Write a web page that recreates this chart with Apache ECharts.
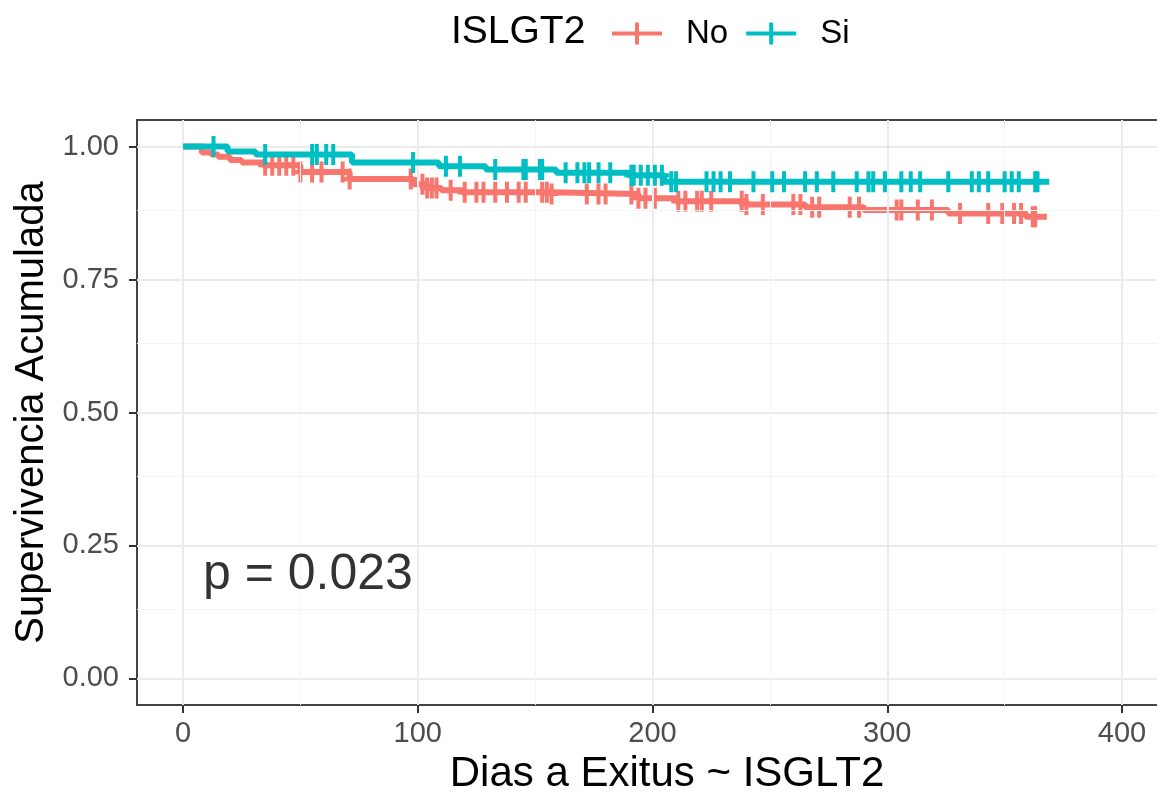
<!DOCTYPE html>
<html>
<head>
<meta charset="utf-8">
<script src="https://cdn.jsdelivr.net/npm/echarts@6/dist/echarts.min.js"></script>
<style>
html,body{margin:0;padding:0;background:#fff;}
#chart{width:1157px;height:800px;}
</style>
</head>
<body>
<div id="chart"></div>
<script>
// ---- data ----
const legendTitle = 'ISLGT2';
const groupNames = ['No', 'Si'];
const groupColors = ['#F8766D', '#00BFC4'];

// Kaplan-Meier steps: time (days) and survival from that time onward
const noTimes = [0, 8, 12, 15, 20, 25, 34, 50, 71, 98, 104, 110, 119, 157, 194, 210, 240, 265, 290, 326, 359, 368];
const noSurv  = [1.0, 0.989, 0.985, 0.981, 0.975, 0.970, 0.965, 0.952, 0.939, 0.929, 0.922, 0.918, 0.914, 0.911, 0.903, 0.897, 0.891, 0.886, 0.881, 0.874, 0.868, 0.868];
const noCensor = [35, 38, 41, 44, 47, 50, 55, 59, 68, 71, 97, 102, 104, 106, 108, 114, 120, 125, 128, 133, 138, 143, 146, 153, 155, 157, 172, 177, 180, 191, 194, 197, 201, 211, 214, 219, 221, 225, 238, 240, 247, 260, 263, 268, 271, 284, 288, 304, 306, 313, 319, 331, 343, 349, 354, 357, 362, 363];

const siTimes = [0, 19, 31, 72, 109, 129, 159, 190, 205, 369];
const siSurv  = [1.0, 0.991, 0.985, 0.970, 0.963, 0.957, 0.951, 0.946, 0.934, 0.934];
const siCensor = [13, 35, 55, 57, 61, 64, 98, 112, 118, 133, 145, 146, 152, 153, 163, 168, 171, 173, 177, 182, 191, 192, 195, 198, 201, 204, 208, 210, 223, 226, 229, 233, 243, 251, 256, 265, 270, 277, 287, 292, 294, 299, 306, 310, 314, 326, 336, 339, 343, 350, 353, 356, 363, 364];

const xTicks = [0, 100, 200, 300, 400];
const xMinor = [50, 150, 250, 350];
const yTicks = [0, 0.25, 0.5, 0.75, 1.0];
const yMinor = [0.125, 0.375, 0.625, 0.875];

const pText = 'p = 0.023';
const pPos = [8.5, 0.194];

// ---- helpers ----
function stepValue(times, surv, t) {
  let v = surv[0];
  for (let i = 0; i < times.length; i++) { if (times[i] <= t) v = surv[i]; }
  return v;
}
const zip = (a, b) => a.map((v, i) => [v, b[i]]);
const plusPath = 'path://M-2,-10H2V10H-2ZM-7,-2H7V2H-7Z';
const legendIcon = 'path://M0,9H50V13H0ZM23,0H27V22H23Z';
const FONT = 'Liberation Sans, Arial, Helvetica, sans-serif';

const X_MIN = -19.6, X_MAX = 414.9, Y_MIN = -0.05, Y_MAX = 1.05;

const gridLines = [];
yTicks.forEach(v => gridLines.push({yAxis: v, lineStyle: {color: '#ebebeb', width: 2, type: 'solid'}}));
yMinor.forEach(v => gridLines.push({yAxis: v, lineStyle: {color: '#f4f4f4', width: 1, type: 'solid'}}));
xTicks.forEach(v => gridLines.push({xAxis: v, lineStyle: {color: '#ebebeb', width: 2, type: 'solid'}}));
xMinor.forEach(v => gridLines.push({xAxis: v, lineStyle: {color: '#f4f4f4', width: 1, type: 'solid'}}));

const chart = echarts.init(document.getElementById('chart'), null, {renderer: 'canvas'});
const option = {
  animation: false,
  backgroundColor: '#ffffff',
  textStyle: {fontFamily: FONT},
  title: {
    text: legendTitle, left: 446, top: 8,
    textStyle: {fontSize: 39, fontWeight: 'normal', color: '#000', fontFamily: FONT}
  },
  legend: {
    left: 607, top: 12,
    itemWidth: 52, itemHeight: 22, itemGap: 18,
    textStyle: {fontSize: 33, color: '#000', fontFamily: FONT, padding: [0, 0, 0, 18]},
    data: groupNames.map(n => ({name: n, icon: legendIcon})),
    selectedMode: false
  },
  grid: {
    left: 137, top: 120, right: 0, height: 591,
    show: false
  },
  xAxis: [{
    type: 'value', min: X_MIN, max: X_MAX,
    name: 'Dias a Exitus ~ ISGLT2', nameLocation: 'middle', nameGap: 48,
    nameTextStyle: {fontSize: 42, color: '#000', fontFamily: FONT, padding: [0, 0, 0, 40]},
    axisLine: {show: true, onZero: false, lineStyle: {color: '#444', width: 2}},
    axisTick: {show: true, length: 8, lineStyle: {color: '#333', width: 2}, customValues: xTicks},
    axisLabel: {show: true, customValues: xTicks, margin: 14, fontSize: 29, color: '#4d4d4d', fontFamily: FONT},
    splitLine: {show: false}
  }, {
    type: 'value', min: X_MIN, max: X_MAX, position: 'top',
    axisLine: {show: true, onZero: false, lineStyle: {color: '#444', width: 2}},
    axisTick: {show: false}, axisLabel: {show: false}, splitLine: {show: false}
  }],
  yAxis: {
    type: 'value', min: Y_MIN, max: Y_MAX,
    name: 'Supervivencia Acumulada', nameLocation: 'middle', nameGap: 84, nameRotate: 90,
    nameTextStyle: {fontSize: 40, color: '#000', fontFamily: FONT},
    axisLine: {show: true, onZero: false, lineStyle: {color: '#444', width: 2}},
    axisTick: {show: true, length: 8, lineStyle: {color: '#333', width: 2}, customValues: yTicks},
    axisLabel: {show: true, customValues: yTicks, margin: 18, fontSize: 29, color: '#4d4d4d', fontFamily: FONT,
      formatter: v => Number(v).toFixed(2)},
    splitLine: {show: false}
  },
  series: [
    {
      type: 'line', name: '_grid', data: [], z: 0, silent: true,
      markLine: {silent: true, symbol: 'none', label: {show: false}, animation: false, data: gridLines}
    },
    {
      type: 'line', name: groupNames[0], step: 'end', data: zip(noTimes, noSurv),
      symbol: 'none', color: groupColors[0], lineStyle: {width: 6, color: groupColors[0]}, z: 3
    },
    {
      type: 'scatter', name: groupNames[0], data: noCensor.map(t => [t, stepValue(noTimes, noSurv, t)]),
      symbol: plusPath, symbolSize: [14, 21], itemStyle: {color: groupColors[0], opacity: 1}, z: 4
    },
    {
      type: 'line', name: groupNames[1], step: 'end', data: zip(siTimes, siSurv),
      symbol: 'none', color: groupColors[1], lineStyle: {width: 6, color: groupColors[1]}, z: 5
    },
    {
      type: 'scatter', name: groupNames[1], data: siCensor.map(t => [t, stepValue(siTimes, siSurv, t)]),
      symbol: plusPath, symbolSize: [14, 21], itemStyle: {color: groupColors[1], opacity: 1}, z: 6
    },
    {
      type: 'scatter', name: '_p', data: [pPos], symbolSize: 0, silent: true, z: 7,
      label: {show: true, formatter: pText, position: 'right', distance: 0,
        fontSize: 50, color: '#000', fontFamily: FONT}
    }
  ]
};
chart.setOption(option);
</script>
</body>
</html>
